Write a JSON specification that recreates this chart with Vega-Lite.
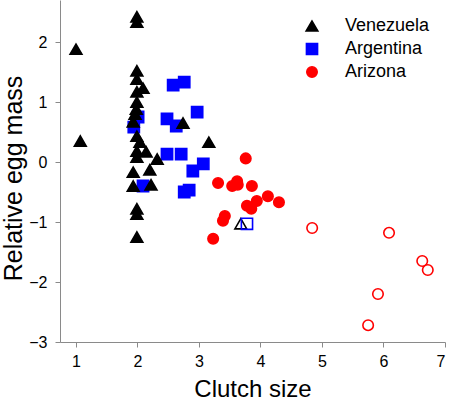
{
  "$schema": "https://vega.github.io/schema/vega-lite/v6.json",
  "width": 385,
  "height": 342,
  "autosize": "none",
  "padding": {"left": 60, "top": 0, "right": 5, "bottom": 63},
  "background": "white",
  "config": {
    "view": {"stroke": null},
    "font": "Liberation Sans",
    "axis": {
      "grid": false,
      "domainColor": "#8a8a8a",
      "tickColor": "#8a8a8a",
      "tickSize": 5,
      "labelColor": "#000000",
      "titleColor": "#000000",
      "labelFont": "Liberation Sans",
      "titleFont": "Liberation Sans",
      "labelFontSize": 16,
      "titleFontSize": 24,
      "titleFontWeight": "normal",
      "labelPadding": 6
    },
    "legend": {
      "labelFont": "Liberation Sans",
      "labelFontSize": 18,
      "labelColor": "#000000"
    }
  },
  "data": {
    "values": [
      {"grp": "Argentina", "x": 2.58, "y": 1.28, "hollow": "no"},
      {"grp": "Argentina", "x": 2.76, "y": 1.33, "hollow": "no"},
      {"grp": "Argentina", "x": 2.97, "y": 0.83, "hollow": "no"},
      {"grp": "Argentina", "x": 2.48, "y": 0.72, "hollow": "no"},
      {"grp": "Argentina", "x": 2.63, "y": 0.6, "hollow": "no"},
      {"grp": "Argentina", "x": 2.01, "y": 0.75, "hollow": "no"},
      {"grp": "Argentina", "x": 1.94, "y": 0.58, "hollow": "no"},
      {"grp": "Argentina", "x": 2.48, "y": 0.13, "hollow": "no"},
      {"grp": "Argentina", "x": 2.71, "y": 0.13, "hollow": "no"},
      {"grp": "Argentina", "x": 2.9, "y": -0.15, "hollow": "no"},
      {"grp": "Argentina", "x": 3.07, "y": -0.03, "hollow": "no"},
      {"grp": "Argentina", "x": 2.76, "y": -0.5, "hollow": "no"},
      {"grp": "Argentina", "x": 2.84, "y": -0.47, "hollow": "no"},
      {"grp": "Argentina", "x": 2.09, "y": -0.4, "hollow": "no"},
      {"grp": "Venezuela", "x": 1.99, "y": 2.42, "hollow": "no"},
      {"grp": "Venezuela", "x": 1.99, "y": 2.33, "hollow": "no"},
      {"grp": "Venezuela", "x": 1.99, "y": 1.52, "hollow": "no"},
      {"grp": "Venezuela", "x": 1.99, "y": 1.38, "hollow": "no"},
      {"grp": "Venezuela", "x": 2.09, "y": 1.23, "hollow": "no"},
      {"grp": "Venezuela", "x": 1.99, "y": 1.17, "hollow": "no"},
      {"grp": "Venezuela", "x": 1.99, "y": 1.0, "hollow": "no"},
      {"grp": "Venezuela", "x": 1.98, "y": 0.88, "hollow": "no"},
      {"grp": "Venezuela", "x": 1.96, "y": 0.8, "hollow": "no"},
      {"grp": "Venezuela", "x": 1.93, "y": 0.67, "hollow": "no"},
      {"grp": "Venezuela", "x": 2.74, "y": 0.65, "hollow": "no"},
      {"grp": "Venezuela", "x": 1.07, "y": 0.35, "hollow": "no"},
      {"grp": "Venezuela", "x": 3.16, "y": 0.33, "hollow": "no"},
      {"grp": "Venezuela", "x": 1.99, "y": 0.43, "hollow": "no"},
      {"grp": "Venezuela", "x": 2.04, "y": 0.33, "hollow": "no"},
      {"grp": "Venezuela", "x": 1.99, "y": 0.18, "hollow": "no"},
      {"grp": "Venezuela", "x": 2.14, "y": 0.17, "hollow": "no"},
      {"grp": "Venezuela", "x": 1.99, "y": 0.08, "hollow": "no"},
      {"grp": "Venezuela", "x": 2.32, "y": 0.05, "hollow": "no"},
      {"grp": "Venezuela", "x": 1.93, "y": -0.17, "hollow": "no"},
      {"grp": "Venezuela", "x": 2.2, "y": -0.13, "hollow": "no"},
      {"grp": "Venezuela", "x": 1.93, "y": -0.4, "hollow": "no"},
      {"grp": "Venezuela", "x": 2.22, "y": -0.38, "hollow": "no"},
      {"grp": "Venezuela", "x": 1.99, "y": -0.78, "hollow": "no"},
      {"grp": "Venezuela", "x": 1.99, "y": -0.87, "hollow": "no"},
      {"grp": "Venezuela", "x": 1.99, "y": -1.25, "hollow": "no"},
      {"grp": "Venezuela", "x": 1.0, "y": 1.88, "hollow": "no"},
      {"grp": "Arizona", "x": 3.76, "y": 0.06, "hollow": "no"},
      {"grp": "Arizona", "x": 3.31, "y": -0.35, "hollow": "no"},
      {"grp": "Arizona", "x": 3.54, "y": -0.4, "hollow": "no"},
      {"grp": "Arizona", "x": 3.62, "y": -0.32, "hollow": "no"},
      {"grp": "Arizona", "x": 3.63, "y": -0.38, "hollow": "no"},
      {"grp": "Arizona", "x": 3.86, "y": -0.4, "hollow": "no"},
      {"grp": "Arizona", "x": 3.94, "y": -0.65, "hollow": "no"},
      {"grp": "Arizona", "x": 4.12, "y": -0.57, "hollow": "no"},
      {"grp": "Arizona", "x": 4.3, "y": -0.67, "hollow": "no"},
      {"grp": "Arizona", "x": 3.78, "y": -0.73, "hollow": "no"},
      {"grp": "Arizona", "x": 3.85, "y": -0.78, "hollow": "no"},
      {"grp": "Arizona", "x": 3.42, "y": -0.9, "hollow": "no"},
      {"grp": "Arizona", "x": 3.39, "y": -0.98, "hollow": "no"},
      {"grp": "Arizona", "x": 3.23, "y": -1.28, "hollow": "no"},
      {"grp": "Arizona", "x": 4.84, "y": -1.1, "hollow": "yes"},
      {"grp": "Arizona", "x": 6.09, "y": -1.18, "hollow": "yes"},
      {"grp": "Arizona", "x": 6.63, "y": -1.65, "hollow": "yes"},
      {"grp": "Arizona", "x": 6.72, "y": -1.8, "hollow": "yes"},
      {"grp": "Arizona", "x": 5.91, "y": -2.2, "hollow": "yes"},
      {"grp": "Arizona", "x": 5.75, "y": -2.72, "hollow": "yes"},
      {"grp": "Venezuela", "x": 3.68, "y": -1.03, "hollow": "yes"},
      {"grp": "Argentina", "x": 3.78, "y": -1.03, "hollow": "yes"}
    ]
  },
  "mark": {"type": "point", "filled": true, "opacity": 1, "strokeWidth": 1.6},
  "encoding": {
    "x": {
      "field": "x", "type": "quantitative",
      "scale": {"domain": [0.74, 7], "nice": false, "zero": false},
      "axis": {"values": [1, 2, 3, 4, 5, 6, 7], "title": "Clutch size", "titlePadding": 8}
    },
    "y": {
      "field": "y", "type": "quantitative",
      "scale": {"domain": [-3, 2.7], "nice": false, "zero": false},
      "axis": {"values": [-3, -2, -1, 0, 1, 2], "title": "Relative egg mass", "labelPadding": 8, "titlePadding": 2, "titleFontSize": 25, "titleY": 178}
    },
    "color": {
      "field": "grp", "type": "nominal",
      "scale": {"domain": ["Venezuela", "Argentina", "Arizona"], "range": ["#000000", "#0000ff", "#ff0000"]},
      "legend": {"title": null, "orient": "none", "legendX": 243, "legendY": 17, "labelOffset": 24, "rowPadding": 5, "symbolSize": 120, "symbolStrokeWidth": 1.5}
    },
    "stroke": {
      "field": "grp", "type": "nominal",
      "scale": {"domain": ["Venezuela", "Argentina", "Arizona"], "range": ["#000000", "#0000ff", "#ff0000"]},
      "legend": {"title": null, "orient": "none", "legendX": 243, "legendY": 17, "labelOffset": 24, "rowPadding": 5, "symbolSize": 120, "symbolStrokeWidth": 1.5}
    },
    "shape": {
      "field": "grp", "type": "nominal",
      "scale": {"domain": ["Venezuela", "Argentina", "Arizona"], "range": ["triangle-up", "square", "circle"]},
      "legend": {"title": null, "orient": "none", "legendX": 243, "legendY": 17, "labelOffset": 24, "rowPadding": 5, "symbolSize": 120, "symbolStrokeWidth": 1.5}
    },
    "size": {
      "field": "grp", "type": "nominal",
      "scale": {"domain": ["Venezuela", "Argentina", "Arizona"], "range": [140, 110, 125]},
      "legend": null
    },
    "fillOpacity": {
      "field": "hollow", "type": "nominal",
      "scale": {"domain": ["no", "yes"], "range": [1, 0]},
      "legend": null
    }
  }
}
